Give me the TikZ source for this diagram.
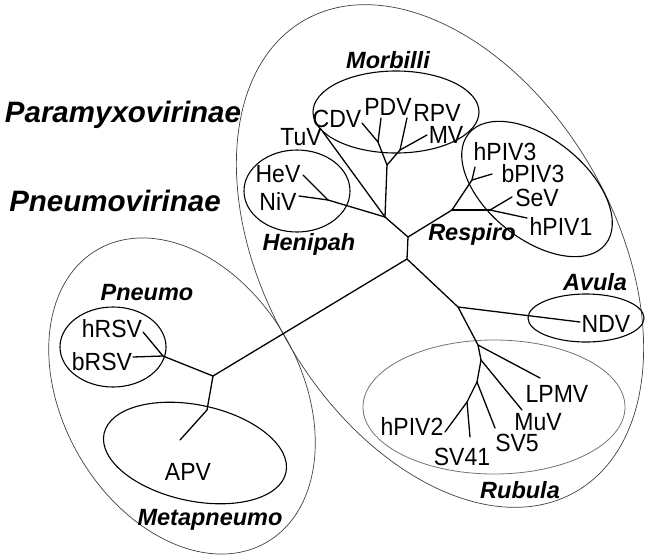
\documentclass[tikz,border=0pt]{standalone}
\usepackage{fontspec}
\setmainfont{Liberation Sans}
\usepackage{tikz}
\usetikzlibrary{positioning}
\newcommand{\virname}[1]{\scalebox{1}[1.08]{#1}}

\begin{document}
\begin{tikzpicture}[x=1pt,y=-1pt]
    \tikzset{leaf/.style={font=\fontsize{23}{27}\selectfont,inner sep=0pt,anchor=base},
             clade/.style={font=\fontsize{23.5}{27}\selectfont\bfseries\itshape,inner sep=0pt,anchor=base},
             family/.style={font=\fontsize{29.5}{34}\selectfont\bfseries\itshape,inner sep=0pt,anchor=base},
             branch/.style={line width=1.3pt,line cap=round,line join=round},
             ring/.style={draw=black,line width=1.1pt},
             bigring/.style={draw=black!75,line width=0.7pt}}
    \useasboundingbox (0,0) rectangle (651,555);
    % subfamilies and genera
    \draw[bigring] (440,256) [rotate around={30:(440,256)}] ellipse [x radius=175,y radius=272];
    \draw[bigring] (182,396) [rotate around={30:(182,396)}] ellipse [x radius=119,y radius=169];
    \draw[ring] (396,112) ellipse [x radius=83,y radius=41];
    \draw[ring] (297,191) ellipse [x radius=53,y radius=41];
    \draw[ring] (537,189) [rotate around={-39:(537,189)}] ellipse [x radius=88,y radius=50];
    \draw[ring] (586,318) ellipse [x radius=58,y radius=24];
    \draw[draw=black!55,line width=0.8pt] (494,407) ellipse [x radius=131,y radius=67];
    \draw[ring] (113,347) ellipse [x radius=53,y radius=40];
    \draw[ring] (195,453) [rotate around={-12:(195,453)}] ellipse [x radius=93,y radius=48];
    % tree
    \foreach \n/\x/\y in {A/407/259,B/408/237,C/385/217,M1/387/165,M2/378/142,M3/400/150,
                          H1/328/200,R1/452/210,R2/472/180,R3/490/210,N1/458/307,
                          Ru1/478/345,Ru2/481/360,Ru3/477/382,Ru4/467/402,
                          P1/213/376,Pn1/163/356,Pm1/207/410,
                          tCDV/362/123,tPDV/381/118,tRPV/407/118,tMV/427/135,tTuV/323/132,
                          tHeV/303/175,tNiV/299/196,thPIV3/475/167,tbPIV3/492/174,
                          tSeV/512/197,thPIV1/527/218,tNDV/580/322,tLPMV/540/378,
                          tMuV/522/410,tSV5/495/428,tSV41/470/437,thPIV2/445/432,
                          thRSV/143/332,tbRSV/133/357,tAPV/180/440}
      \coordinate (\n) at (\x,\y);
    \foreach \a/\b in {A/B,B/C,C/M1,M1/M2,M1/M3,M2/tCDV,M2/tPDV,M3/tRPV,M3/tMV,C/tTuV,
                       C/H1,H1/tHeV,H1/tNiV,B/R1,R1/R2,R2/thPIV3,R2/tbPIV3,R1/R3,R3/tSeV,R3/thPIV1,
                       A/N1,N1/tNDV,N1/Ru1,Ru1/tLPMV,Ru1/Ru2,Ru2/tMuV,Ru2/Ru3,Ru3/tSV5,Ru3/Ru4,
                       Ru4/tSV41,Ru4/thPIV2,A/P1,P1/Pn1,Pn1/thRSV,Pn1/tbRSV,P1/Pm1,Pm1/tAPV}
      \draw[branch] (\a) -- (\b);
    % virus names
    \foreach \v/\x/\y in {CDV/337/127,PDV/388/115,RPV/437/121,MV/446/143,TuV/301/145,
                          HeV/278/182,NiV/278/210,hPIV3/505/160,bPIV3/533/182,SeV/537/206,
                          hPIV1/561/235,NDV/606/332,LPMV/557/402,MuV/538/430,SV5/517/451,
                          SV41/462/465,hPIV2/412/435,hRSV/112/337,bRSV/102/370,APV/188/480}
      \node[leaf] (\v) at (\x,\y) {\virname{\v}};
    \node[clade] (morbilli) at (388,68) {Morbilli};
    \node[clade] (henipah) at (309,250) {Henipah};
    \node[clade] (respiro) at (472,240) {Respiro};
    \node[clade] (avula) at (595,290) {Avula};
    \node[clade] (rubula) at (520,498) {Rubula};
    \node[clade] (pneumo) at (147,300) {Pneumo};
    \node[clade] (metapneumo) at (210,525) {Metapneumo};
    \node[family] (paramyxo) at (123,122) {Paramyxovirinae};
    \node[family] (pneumovir) at (115,211) {Pneumovirinae};
\end{tikzpicture}
\end{document}
